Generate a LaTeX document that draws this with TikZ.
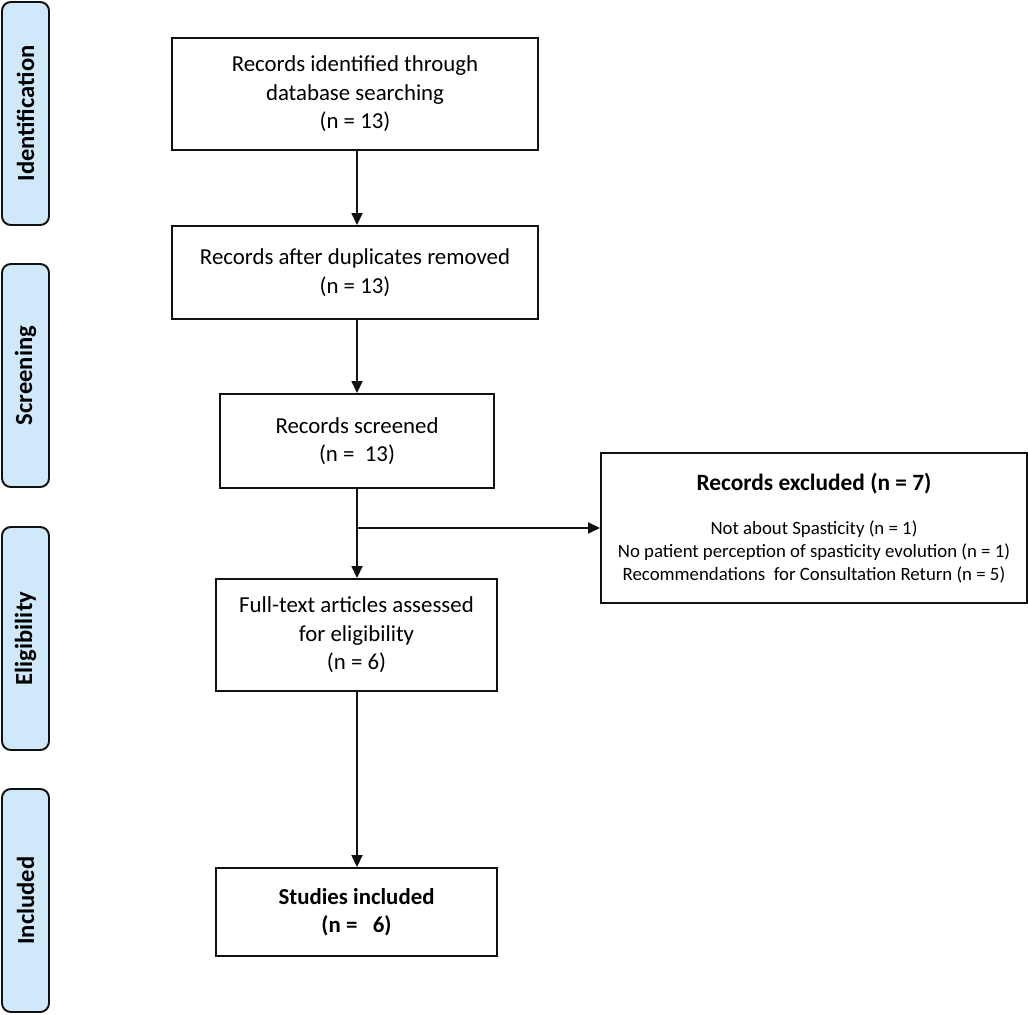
\documentclass[tikz,border=0pt]{standalone}
\usepackage{fontspec}
\setmainfont{Carlito}
\usepackage{tikz}
\usetikzlibrary{arrows.meta, positioning, calc}
\definecolor{stagefill}{HTML}{CFE9FB}
\definecolor{inkline}{HTML}{111111}

\begin{document}
\begin{tikzpicture}[
    box/.style={rectangle, draw=inkline, line width=1.1pt, fill=white, align=center, font=\fontsize{13}{16.2}\selectfont, inner sep=2pt},
    stage/.style={rectangle, rounded corners=5pt, draw=inkline, line width=1.1pt, fill=stagefill, rotate=90, minimum width=4.46cm, minimum height=0.94cm, font=\bfseries\fontsize{14}{16}\selectfont},
    arr/.style={-{Triangle[length=2.4mm, width=2.2mm]}, line width=1pt, color=inkline},
  ]
  \useasboundingbox (0,0) rectangle (20.56,-20.28);

  % Stage labels on the left
  \node[stage] (identification) at (0.51,-2.27) {Identification};
  \node[stage] (screening) at (0.51,-7.51) {Screening};
  \node[stage] (eligibility) at (0.51,-12.77) {Eligibility};
  \node[stage] (included) at (0.51,-18.01) {Included};

  % Main column
  \node[box, minimum width=7.32cm, minimum height=2.24cm] (identified) at (7.10,-1.88)
    {Records identified through\\database searching\\(n = 13)};
  \node[box, minimum width=7.32cm, minimum height=1.86cm] (deduped) at (7.10,-5.45)
    {Records after duplicates removed\\(n = 13)};
  \node[box, minimum width=5.48cm, minimum height=1.88cm] (screened) at (7.14,-8.82)
    {Records screened\\(n =\ \ 13)};
  \node[box, minimum width=5.62cm, minimum height=2.24cm] (fulltext) at (7.13,-12.70)
    {Full-text articles assessed\\for eligibility\\(n = 6)};
  \node[box, minimum width=5.62cm, minimum height=1.76cm, font=\bfseries\fontsize{13}{16.2}\selectfont] (studies) at (7.13,-18.24)
    {Studies included\\(n =\ \ \ 6)};

  % Exclusions
  \node[box, minimum width=8.52cm, minimum height=3.00cm, font=\fontsize{10.7}{13}\selectfont] (excluded) at (16.28,-10.56)
    {{\bfseries\fontsize{13.3}{15}\selectfont Records excluded (n = 7)}\\[4.2mm]
     Not about Spasticity (n = 1)\\
     No patient perception of spasticity evolution (n = 1)\\
     Recommendations\ \ for Consultation Return (n = 5)};

  % Arrows
  \coordinate (split) at ($(screened.south)+(0,-0.78)$);
  \draw[arr] (identified.south -| screened.south) -- (deduped.north -| screened.south);
  \draw[arr] (deduped.south -| screened.south) -- (screened.north);
  \draw[arr] (screened.south) -- (fulltext.north -| screened.south);
  \draw[arr] (split) -- (split -| excluded.west);
  \draw[arr] (fulltext.south -| screened.south) -- (studies.north -| screened.south);
\end{tikzpicture}
\end{document}
